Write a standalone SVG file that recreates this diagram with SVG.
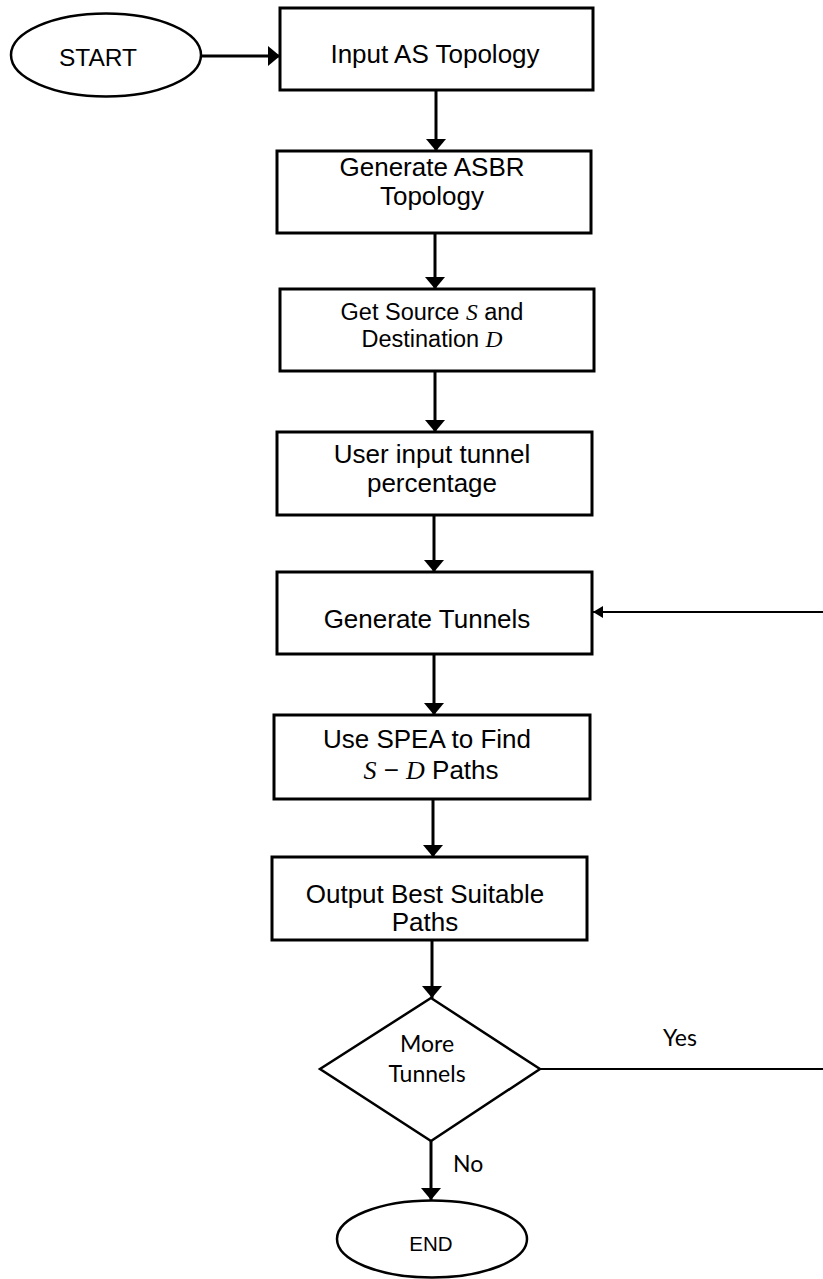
<svg xmlns="http://www.w3.org/2000/svg" width="823" height="1279" viewBox="0 0 823 1279">
  <defs>
    <style>
      .box { fill: #ffffff; stroke: #000000; stroke-width: 3; }
      .term { fill: #ffffff; stroke: #000000; stroke-width: 2.5; }
      .dec { fill: #ffffff; stroke: #000000; stroke-width: 2.5; }
      .flow { fill: none; stroke: #000000; stroke-width: 3; }
      .loop { fill: none; stroke: #000000; stroke-width: 2; }
      .lbl { font-family: "Liberation Sans", Arial, Helvetica, sans-serif; font-size: 26px; fill: #000000; text-anchor: middle; }
      .math { font-family: "Liberation Serif", "Times New Roman", serif; font-style: italic; }
      .cal { font-family: Lato, "Open Sans", sans-serif; font-size: 23px; fill: #000000; }
    </style>
    <marker id="head" viewBox="0 0 12 20" refX="12" refY="10" markerWidth="12" markerHeight="20" markerUnits="userSpaceOnUse" orient="auto">
      <path d="M0,0 L12,10 L0,20 Z" fill="#000000"/>
    </marker>
    <marker id="headSmall" viewBox="0 0 10 12" refX="10" refY="6" markerWidth="10" markerHeight="12" markerUnits="userSpaceOnUse" orient="auto">
      <path d="M0,0 L10,6 L0,12 Z" fill="#000000"/>
    </marker>
  </defs>

  <rect width="823" height="1279" fill="#ffffff"/>

  <!-- connectors -->
  <g id="connectors">
    <line class="flow" x1="201" y1="56" x2="280" y2="56" marker-end="url(#head)"/>
    <line class="flow" x1="436" y1="90" x2="436" y2="151" marker-end="url(#head)"/>
    <line class="flow" x1="435" y1="233" x2="435" y2="289" marker-end="url(#head)"/>
    <line class="flow" x1="435" y1="371" x2="435" y2="432" marker-end="url(#head)"/>
    <line class="flow" x1="434" y1="515" x2="434" y2="572" marker-end="url(#head)"/>
    <line class="flow" x1="434" y1="654" x2="434" y2="715" marker-end="url(#head)"/>
    <line class="flow" x1="433" y1="799" x2="433" y2="857" marker-end="url(#head)"/>
    <line class="flow" x1="432" y1="940" x2="432" y2="998" marker-end="url(#head)"/>
    <line class="flow" x1="431" y1="1141" x2="431" y2="1200" marker-end="url(#head)"/>
    <!-- loop back: Yes branch leaves to the right, returns into Generate Tunnels -->
    <line class="loop" x1="540" y1="1069" x2="823" y2="1069"/>
    <line class="loop" x1="823" y1="612" x2="593" y2="612" marker-end="url(#headSmall)"/>
    <text class="cal" x="663" y="1046">Yes</text>
    <text class="cal" x="453" y="1172">No</text>
  </g>

  <g id="start">
    <ellipse class="term" cx="106" cy="55" rx="95" ry="41.5"/>
    <text class="lbl" x="98" y="66" style="font-size:24.5px">START</text>
  </g>

  <g id="input-as">
    <rect class="box" x="280" y="8" width="313" height="82"/>
    <text class="lbl" x="435" y="63">Input AS Topology</text>
  </g>

  <g id="gen-asbr">
    <rect class="box" x="277" y="151" width="314" height="82"/>
    <text class="lbl" x="432" y="176">Generate ASBR</text>
    <text class="lbl" x="432" y="205">Topology</text>
  </g>

  <g id="source-dest">
    <rect class="box" x="280" y="289" width="314" height="82"/>
    <text class="lbl" x="432" y="320" style="font-size:23.5px">Get Source <tspan class="math">S</tspan> and</text>
    <text class="lbl" x="432" y="347" style="font-size:23.5px">Destination <tspan class="math">D</tspan></text>
  </g>

  <g id="user-input">
    <rect class="box" x="277" y="432" width="315" height="83"/>
    <text class="lbl" x="432" y="463">User input tunnel</text>
    <text class="lbl" x="432" y="492">percentage</text>
  </g>

  <g id="gen-tunnels">
    <rect class="box" x="277" y="572" width="315" height="82"/>
    <text class="lbl" x="427" y="628">Generate Tunnels</text>
  </g>

  <g id="spea">
    <rect class="box" x="274" y="715" width="316" height="84"/>
    <text class="lbl" x="427" y="748">Use SPEA to Find</text>
    <text class="lbl" x="431" y="779"><tspan class="math">S</tspan> − <tspan class="math">D</tspan> Paths</text>
  </g>

  <g id="output">
    <rect class="box" x="272" y="857" width="315" height="83"/>
    <text class="lbl" x="425" y="903">Output Best Suitable</text>
    <text class="lbl" x="425" y="931">Paths</text>
  </g>

  <g id="more-tunnels">
    <polygon class="dec" points="431,998 540,1069 431,1141 320,1069"/>
    <text class="cal" x="427" y="1052" text-anchor="middle">More</text>
    <text class="cal" x="427" y="1082" text-anchor="middle">Tunnels</text>
  </g>

  <g id="end">
    <ellipse class="term" cx="432" cy="1239" rx="95" ry="38.5"/>
    <text class="lbl" x="431" y="1251" style="font-size:20.5px">END</text>
  </g>
</svg>
